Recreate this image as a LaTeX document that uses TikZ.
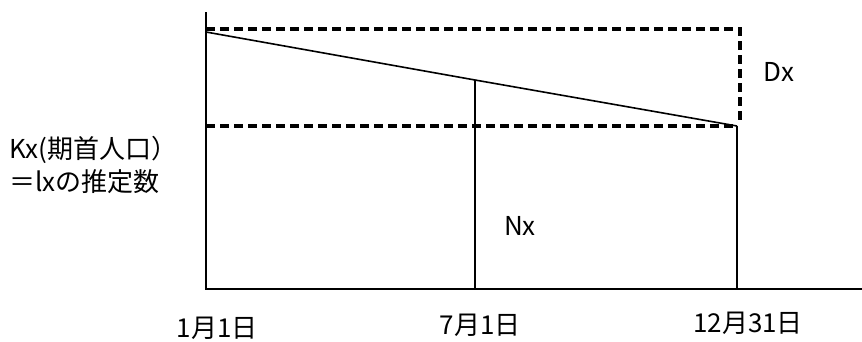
\documentclass[tikz,border=0pt]{standalone}
\usepackage{fontspec}
\setmainfont{Noto Sans CJK JP}
\begin{document}
\begin{tikzpicture}[x=1pt,y=-1pt,
  solidline/.style={line width=1.6pt,black},
  dashline/.style={line width=3.2pt,black,dash pattern=on 9pt off 5pt},
  lbl/.style={inner sep=0pt,font=\fontsize{26}{33}\selectfont}]
\useasboundingbox (0,0) rectangle (862,341);
% key points
\coordinate (ytop) at (206,12);
\coordinate (O) at (206,289);
\coordinate (xend) at (862,289);
\coordinate (K) at (206,32);
\coordinate (M) at (475,80);
\coordinate (E) at (737,126);
\coordinate (Mb) at (475,289);
\coordinate (Eb) at (737,289);
\coordinate (topL) at (206,29);
\coordinate (topR) at (740,29);
\coordinate (dashR) at (740,124);
\coordinate (lowL) at (206,126);
% dashed frame
\draw[dashline] (topL) -- (topR) -- (dashR);
\draw[dashline] (lowL) -- (E);
% axes
\draw[solidline] (ytop) -- (O) -- (xend);
% sloped line and verticals
\draw[solidline] (K) -- (M) -- (E);
\draw[solidline] (M) -- (Mb);
\draw[solidline] (E) -- (Eb);
% labels
\node[lbl] (dx) at (779,72) {Dx};
\node[lbl] (nx) at (520,226) {Nx};
\node[lbl,align=left,anchor=west] (kx) at (9,165) {Kx(期首人口）\\＝lxの推定数};
\node[lbl] (d1) at (217,328) {1月1日};
\node[lbl] (d2) at (480,325) {7月1日};
\node[lbl] (d3) at (748,323) {12月31日};
\end{tikzpicture}
\end{document}
